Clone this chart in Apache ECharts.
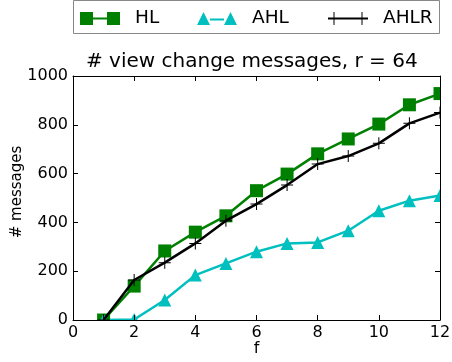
<!DOCTYPE html>
<html>
<head>
<meta charset="utf-8">
<script src="https://cdn.jsdelivr.net/npm/echarts@6/dist/echarts.min.js"></script>
<style>
  html, body { margin: 0; padding: 0; background: #fff; }
  #chart { width: 452px; height: 362px; }
</style>
</head>
<body>
<div id="chart"></div>
<script>
// f values (number of faults)
const fValues = [1, 2, 3, 4, 5, 6, 7, 8, 9, 10, 11, 12];
// number of view change messages per protocol
const hlMessages   = [0, 139, 283, 360, 427, 530, 598, 681, 742, 803, 882, 928];
const ahlMessages  = [0, 2, 82, 184, 232, 280, 314, 318, 366, 448, 489, 510];
const ahlrMessages = [0, 164, 235, 314, 407, 475, 553, 639, 672, 724, 806, 850];

const xTicks = { min: 0, max: 12, interval: 2 };
const yTicks = { min: 0, max: 1000, interval: 200 };

const FONT = 'DejaVu Sans';
const GREEN = '#008000';
const CYAN = '#00bfbf';
const BLACK = '#000000';

const plusPath = 'path://M0,5.5H12V6.5H0Z M5.5,0H6.5V12H5.5Z';

// legend icons: a short line with a marker at each end
const iconHL = 'path://M0,0H13V13H0Z M27,0H40V13H27Z M13,5.5H27V7.5H13Z';
const iconAHL = 'path://M0,13L6.5,0L13,13Z M27,13L33.5,0L40,13Z M13,6.5H27V8.5H13Z';
const iconAHLR = 'path://M0,5.5H40V7.5H0Z M5.5,0H6.5V13H5.5Z M33.5,0H34.5V13H33.5Z';

const grid = { left: 73, top: 76, right: 12, bottom: 42 };

function pairs(ys) { return fValues.map((f, i) => [f, ys[i]]); }

function legendAt(name, icon, left) {
  return {
    data: [{ name: name, icon: icon }],
    left: left, top: 9,
    itemWidth: 40, itemHeight: 13,
    padding: 0,
    selectedMode: false,
    textStyle: { fontFamily: FONT, fontSize: 18.5, color: '#000', padding: [0, 0, 0, 10] }
  };
}

const chart = echarts.init(document.getElementById('chart'), null, { renderer: 'canvas' });

const tickLabel = { fontFamily: FONT, fontSize: 16, color: '#000', formatter: v => String(v) };

chart.setOption({
  animation: false,
  backgroundColor: '#fff',
  title: {
    text: '# view change messages, r = 64',
    left: 86, top: 52,
    padding: 0,
    textStyle: { fontFamily: FONT, fontSize: 20, fontWeight: 'normal', color: '#000' }
  },
  legend: [
    legendAt('HL', iconHL, 80),
    legendAt('AHL', iconAHL, 197),
    legendAt('AHLR', iconAHLR, 328)
  ],
  grid: Object.assign({ containLabel: false, outerBoundsMode: 'none' }, grid),
  xAxis: [
    {
      type: 'value', position: 'bottom', z: 10,
      min: xTicks.min, max: xTicks.max, interval: xTicks.interval,
      name: 'f', nameLocation: 'middle', nameGap: 21, nameMoveOverlap: false,
      nameTextStyle: { fontFamily: FONT, fontSize: 16, color: '#000' },
      axisLine: { show: true, onZero: false, lineStyle: { color: '#000', width: 1 } },
      axisTick: { show: true, inside: true, length: 5, lineStyle: { color: '#000' } },
      axisLabel: Object.assign({ margin: 5 }, tickLabel),
      splitLine: { show: false }
    },
    {
      type: 'value', position: 'top', z: 10,
      min: xTicks.min, max: xTicks.max, interval: xTicks.interval,
      axisLine: { show: true, onZero: false, lineStyle: { color: '#000', width: 1 } },
      axisTick: { show: true, inside: true, length: 5, lineStyle: { color: '#000' } },
      axisLabel: { show: false },
      splitLine: { show: false }
    }
  ],
  yAxis: [
    {
      type: 'value', position: 'left', z: 10,
      min: yTicks.min, max: yTicks.max, interval: yTicks.interval,
      name: '# messages', nameLocation: 'middle', nameGap: 48, nameMoveOverlap: false,
      nameTextStyle: { fontFamily: FONT, fontSize: 15, color: '#000', padding: [0, 0, 0, 12] },
      axisLine: { show: true, onZero: false, lineStyle: { color: '#000', width: 1 } },
      axisTick: { show: true, inside: true, length: 5, lineStyle: { color: '#000' } },
      axisLabel: Object.assign({ margin: 5 }, tickLabel),
      splitLine: { show: false }
    },
    {
      type: 'value', position: 'right', z: 10,
      min: yTicks.min, max: yTicks.max, interval: yTicks.interval,
      axisLine: { show: true, onZero: false, lineStyle: { color: '#000', width: 1 } },
      axisTick: { show: true, inside: true, length: 5, lineStyle: { color: '#000' } },
      axisLabel: { show: false },
      splitLine: { show: false }
    }
  ],
  graphic: [
    // the plot clips markers at the frame edges
    { type: 'rect', z: 5, silent: true, shape: { x: 0, y: 362 - grid.bottom + 0.5, width: 452, height: grid.bottom }, style: { fill: '#fff' } },
    { type: 'rect', z: 5, silent: true, shape: { x: 452 - grid.right + 0.5, y: 0, width: grid.right, height: 362 }, style: { fill: '#fff' } },
    // legend frame
    { type: 'rect', z: 1, silent: true, shape: { x: 73.5, y: 0.5, width: 366, height: 33 }, style: { fill: '#fff', stroke: '#888', lineWidth: 1 } }
  ],
  series: [
    {
      name: 'HL', type: 'line', data: pairs(hlMessages), z: 3,
      symbol: 'rect', symbolSize: 13, showAllSymbol: true,
      lineStyle: { color: GREEN, width: 2.5 },
      itemStyle: { color: GREEN },
      clip: false
    },
    {
      name: 'AHL', type: 'line', data: pairs(ahlMessages), z: 3,
      symbol: 'triangle', symbolSize: 13, showAllSymbol: true,
      lineStyle: { color: CYAN, width: 2.5 },
      itemStyle: { color: CYAN },
      clip: false
    },
    {
      name: 'AHLR', type: 'line', data: pairs(ahlrMessages), z: 4,
      symbol: plusPath, symbolSize: 12, showAllSymbol: true,
      lineStyle: { color: BLACK, width: 2.5 },
      itemStyle: { color: BLACK },
      clip: false
    }
  ]
});
</script>
</body>
</html>
